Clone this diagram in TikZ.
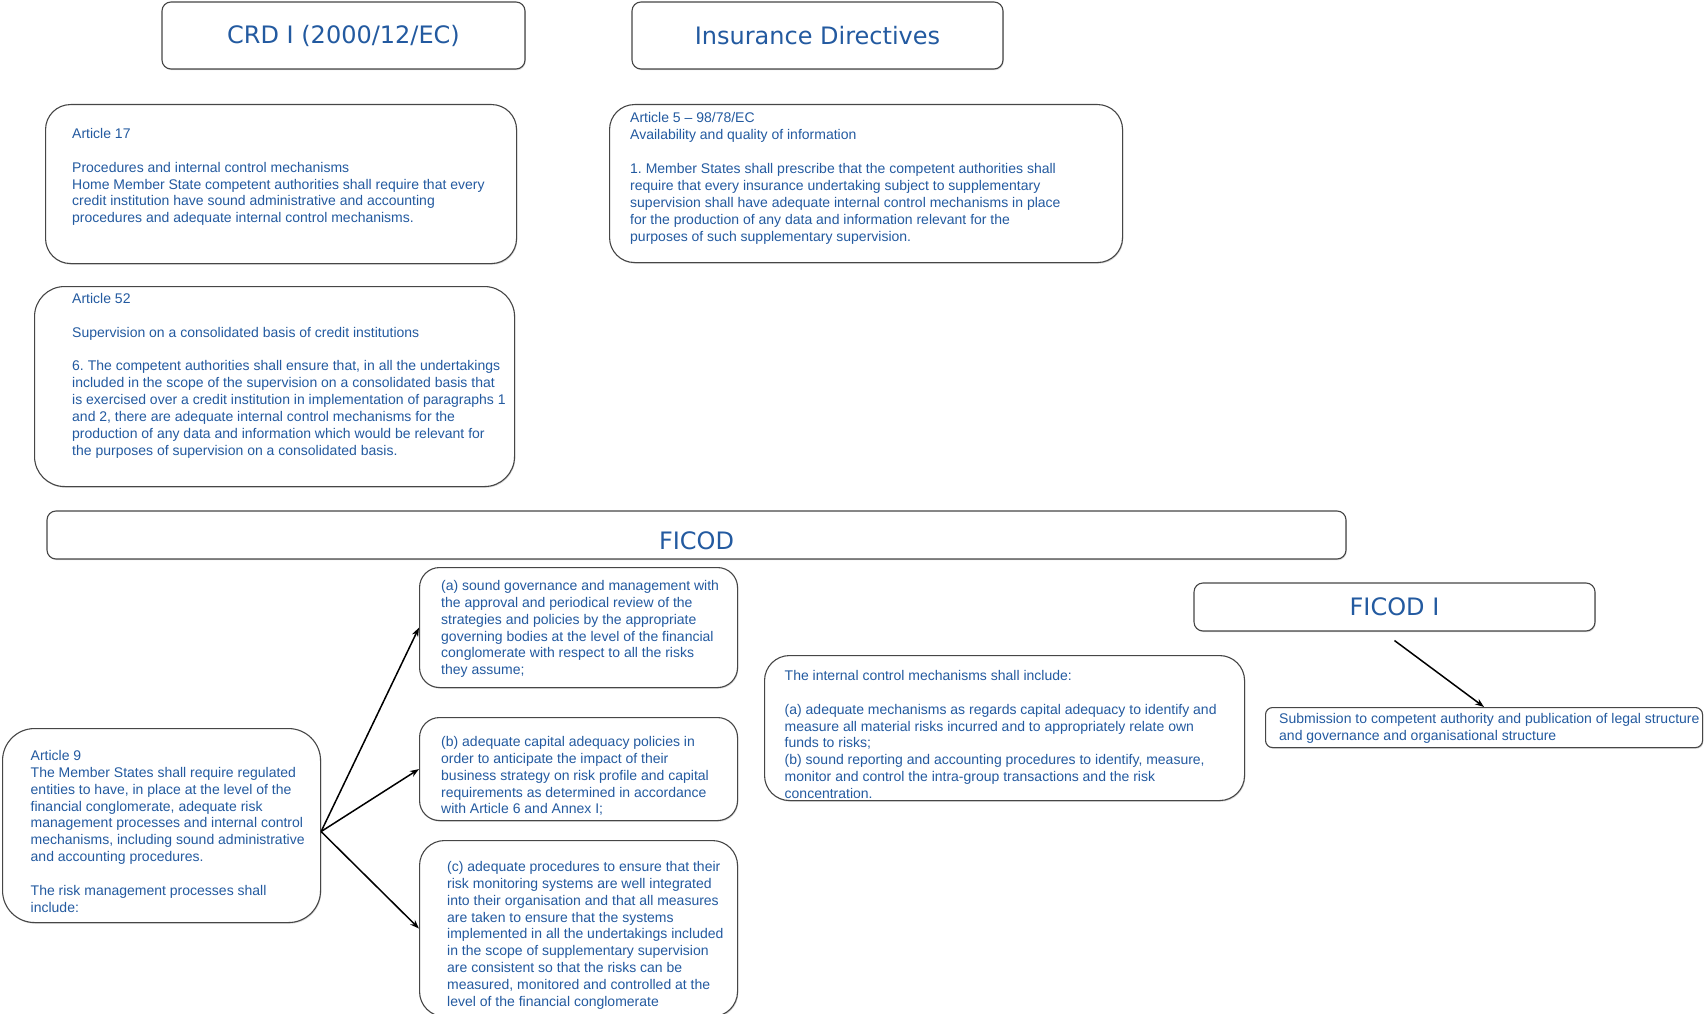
\documentclass[tikz,border=0pt]{standalone}
\usepackage{fontspec}
\setmainfont{Liberation Sans}
\newfontfamily\titlefont{DejaVu Sans}
\usetikzlibrary{arrows.meta,shadows}
\definecolor{lawblue}{RGB}{35,90,160}
\definecolor{rimgray}{RGB}{70,70,70}
\frenchspacing

\begin{document}
\begin{tikzpicture}[x=1pt,y=-1pt,
  box/.style={draw=rimgray,line width=1.1pt,fill=white,
    drop shadow={shadow xshift=0.8pt,shadow yshift=-1.2pt,opacity=0.3}},
  titlebox/.style={box,rounded corners=9pt,text=lawblue,
    font=\titlefont\fontsize{24}{28}\selectfont},
  lawtext/.style={anchor=north west,inner sep=0pt,align=left,text=lawblue,
    font=\fontsize{14}{16.9}\selectfont},
  link/.style={-{Stealth[length=9pt,width=6.5pt]},line width=1.5pt}]
\useasboundingbox (0,0) rectangle (1706,1014);

\node[titlebox,minimum width=363pt,minimum height=67pt] (crd) at (343.5,35.5) {CRD I (2000/12/EC)};
\node[titlebox,minimum width=371pt,minimum height=67pt] (insdir) at (817.5,35.5) {Insurance Directives};
\node[box,rounded corners=9pt,minimum width=1299pt,minimum height=48pt] (ficod) at (696.5,535) {};
\node[text=lawblue,font=\titlefont\fontsize{24}{28}\selectfont] (ficodlabel) at (696.5,541) {FICOD};
\node[titlebox,minimum width=401pt,minimum height=48pt] (ficodI) at (1394.5,607) {FICOD I};

\foreach \n/\x/\y/\w/\h/\rad in {
  art17/45/104/471/159/25, art5/609/104/513/158/25, art52/34/286/480/200/30,
  art9/2/728/318/194/32, boxa/419/567/318/120/20, boxb/419/717/318/103/20,
  boxc/419/840/318/176/25, ictrl/764/655/480/145/25, subm/1265/707/437/40/7}
  \node[box,rounded corners=\rad pt,minimum width=\w pt,minimum height=\h pt,
    anchor=north west,inner sep=0pt] (\n) at (\x,\y) {};

\node[lawtext] (art17t) at (72,128) {Article 17\\[16.9pt]
  Procedures and internal control mechanisms\\
  Home Member State competent authorities shall require that every\\
  credit institution have sound administrative and accounting\\
  procedures and adequate internal control mechanisms.};
\node[lawtext] (art5t) at (630,112.5) {Article 5 -- 98/78/EC\\
  Availability and quality of information\\[16.9pt]
  1. Member States shall prescribe that the competent authorities shall\\
  require that every insurance undertaking subject to supplementary\\
  supervision shall have adequate internal control mechanisms in place\\
  for the production of any data and information relevant for the\\
  purposes of such supplementary supervision.};
\node[lawtext] (art52t) at (72,293) {Article 52\\[16.9pt]
  Supervision on a consolidated basis of credit institutions\\[16.9pt]
  6. The competent authorities shall ensure that, in all the undertakings\\
  included in the scope of the supervision on a consolidated basis that\\
  is exercised over a credit institution in implementation of paragraphs 1\\
  and 2, there are adequate internal control mechanisms for the\\
  production of any data and information which would be relevant for\\
  the purposes of supervision on a consolidated basis.};
\node[lawtext] (art9t) at (30.5,750) {Article 9\\
  The Member States shall require regulated\\
  entities to have, in place at the level of the\\
  financial conglomerate, adequate risk\\
  management processes and internal control\\
  mechanisms, including sound administrative\\
  and accounting procedures.\\[16.9pt]
  The risk management processes shall\\
  include:};
\node[lawtext] (atext) at (441,580) {(a) sound governance and management with\\
  the approval and periodical review of the\\
  strategies and policies by the appropriate\\
  governing bodies at the level of the financial\\
  conglomerate with respect to all the risks\\
  they assume;};
\node[lawtext] (btext) at (441,736) {(b) adequate capital adequacy policies in\\
  order to anticipate the impact of their\\
  business strategy on risk profile and capital\\
  requirements as determined in accordance\\
  with Article 6 and Annex I;};
\node[lawtext] (ctext) at (447,861) {(c) adequate procedures to ensure that their\\
  risk monitoring systems are well integrated\\
  into their organisation and that all measures\\
  are taken to ensure that the systems\\
  implemented in all the undertakings included\\
  in the scope of supplementary supervision\\
  are consistent so that the risks can be\\
  measured, monitored and controlled at the\\
  level of the financial conglomerate};
\node[lawtext] (ictrlt) at (784.5,670) {The internal control mechanisms shall include:\\[16.9pt]
  (a) adequate mechanisms as regards capital adequacy to identify and\\
  measure all material risks incurred and to appropriately relate own\\
  funds to risks;\\
  (b) sound reporting and accounting procedures to identify, measure,\\
  monitor and control the intra-group transactions and the risk\\
  concentration.};
\node[lawtext] (submt) at (1279,713) {Submission to competent authority and publication of legal structure\\
  and governance and organisational structure};

\foreach \t in {boxa,boxb,boxc}
  \draw[link] ([yshift=-6pt]art9.east) -- (\t.west);
\draw[link] ([yshift=-9pt]ficodI.south) -- (subm.north);

\end{tikzpicture}
\end{document}
